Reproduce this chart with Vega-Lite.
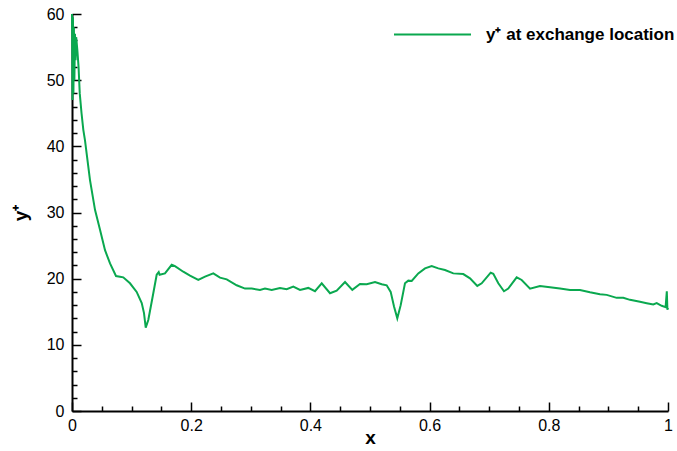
{
  "$schema": "https://vega.github.io/schema/vega-lite/v6.json",
  "width": 596,
  "height": 397,
  "autosize": "none",
  "padding": {"left": 72, "top": 14, "right": 9, "bottom": 40},
  "background": "white",
  "config": {
    "view": {"stroke": null},
    "font": "Liberation Sans",
    "axis": {
      "grid": false,
      "domainColor": "black",
      "domainWidth": 2,
      "tickColor": "black",
      "tickWidth": 1.5,
      "labelFlush": false,
      "labelFont": "Liberation Sans",
      "labelFontSize": 16,
      "labelColor": "black",
      "titleFont": "Liberation Sans",
      "titleFontSize": 19,
      "titleFontWeight": "bold",
      "titleColor": "black"
    }
  },
  "data": {
    "values": [
      {"x": 0.0, "y": 60, "s": "y⁺ at exchange location"},
      {"x": 0.0008, "y": 47, "s": "y⁺ at exchange location"},
      {"x": 0.0016, "y": 59.5, "s": "y⁺ at exchange location"},
      {"x": 0.0024, "y": 48, "s": "y⁺ at exchange location"},
      {"x": 0.0032, "y": 58, "s": "y⁺ at exchange location"},
      {"x": 0.004, "y": 50, "s": "y⁺ at exchange location"},
      {"x": 0.005, "y": 57, "s": "y⁺ at exchange location"},
      {"x": 0.006, "y": 53, "s": "y⁺ at exchange location"},
      {"x": 0.007, "y": 56.5, "s": "y⁺ at exchange location"},
      {"x": 0.009, "y": 54.5, "s": "y⁺ at exchange location"},
      {"x": 0.011, "y": 52, "s": "y⁺ at exchange location"},
      {"x": 0.013, "y": 48, "s": "y⁺ at exchange location"},
      {"x": 0.016, "y": 45, "s": "y⁺ at exchange location"},
      {"x": 0.019, "y": 42.5, "s": "y⁺ at exchange location"},
      {"x": 0.0218, "y": 40.9, "s": "y⁺ at exchange location"},
      {"x": 0.0302, "y": 34.9, "s": "y⁺ at exchange location"},
      {"x": 0.0386, "y": 30.4, "s": "y⁺ at exchange location"},
      {"x": 0.047, "y": 27.4, "s": "y⁺ at exchange location"},
      {"x": 0.0554, "y": 24.3, "s": "y⁺ at exchange location"},
      {"x": 0.0638, "y": 22.3, "s": "y⁺ at exchange location"},
      {"x": 0.0738, "y": 20.4, "s": "y⁺ at exchange location"},
      {"x": 0.0805, "y": 20.3, "s": "y⁺ at exchange location"},
      {"x": 0.086, "y": 20.2, "s": "y⁺ at exchange location"},
      {"x": 0.0973, "y": 19.3, "s": "y⁺ at exchange location"},
      {"x": 0.1085, "y": 18.0, "s": "y⁺ at exchange location"},
      {"x": 0.117, "y": 16.3, "s": "y⁺ at exchange location"},
      {"x": 0.1208, "y": 14.8, "s": "y⁺ at exchange location"},
      {"x": 0.1237, "y": 12.6, "s": "y⁺ at exchange location"},
      {"x": 0.128, "y": 13.75, "s": "y⁺ at exchange location"},
      {"x": 0.1364, "y": 17.8, "s": "y⁺ at exchange location"},
      {"x": 0.1421, "y": 20.6, "s": "y⁺ at exchange location"},
      {"x": 0.1455, "y": 21.0, "s": "y⁺ at exchange location"},
      {"x": 0.147, "y": 20.6, "s": "y⁺ at exchange location"},
      {"x": 0.156, "y": 20.8, "s": "y⁺ at exchange location"},
      {"x": 0.1673, "y": 22.1, "s": "y⁺ at exchange location"},
      {"x": 0.1728, "y": 21.9, "s": "y⁺ at exchange location"},
      {"x": 0.1867, "y": 21.05, "s": "y⁺ at exchange location"},
      {"x": 0.198, "y": 20.45, "s": "y⁺ at exchange location"},
      {"x": 0.2119, "y": 19.8, "s": "y⁺ at exchange location"},
      {"x": 0.2232, "y": 20.3, "s": "y⁺ at exchange location"},
      {"x": 0.2371, "y": 20.8, "s": "y⁺ at exchange location"},
      {"x": 0.2483, "y": 20.15, "s": "y⁺ at exchange location"},
      {"x": 0.2596, "y": 19.9, "s": "y⁺ at exchange location"},
      {"x": 0.2763, "y": 19.0, "s": "y⁺ at exchange location"},
      {"x": 0.2903, "y": 18.5, "s": "y⁺ at exchange location"},
      {"x": 0.3015, "y": 18.5, "s": "y⁺ at exchange location"},
      {"x": 0.3154, "y": 18.3, "s": "y⁺ at exchange location"},
      {"x": 0.3238, "y": 18.5, "s": "y⁺ at exchange location"},
      {"x": 0.3351, "y": 18.3, "s": "y⁺ at exchange location"},
      {"x": 0.349, "y": 18.6, "s": "y⁺ at exchange location"},
      {"x": 0.3602, "y": 18.4, "s": "y⁺ at exchange location"},
      {"x": 0.3713, "y": 18.8, "s": "y⁺ at exchange location"},
      {"x": 0.3826, "y": 18.3, "s": "y⁺ at exchange location"},
      {"x": 0.3965, "y": 18.6, "s": "y⁺ at exchange location"},
      {"x": 0.4077, "y": 18.1, "s": "y⁺ at exchange location"},
      {"x": 0.419, "y": 19.3, "s": "y⁺ at exchange location"},
      {"x": 0.4329, "y": 17.8, "s": "y⁺ at exchange location"},
      {"x": 0.4441, "y": 18.2, "s": "y⁺ at exchange location"},
      {"x": 0.4581, "y": 19.5, "s": "y⁺ at exchange location"},
      {"x": 0.4703, "y": 18.3, "s": "y⁺ at exchange location"},
      {"x": 0.4832, "y": 19.2, "s": "y⁺ at exchange location"},
      {"x": 0.4945, "y": 19.15, "s": "y⁺ at exchange location"},
      {"x": 0.5084, "y": 19.5, "s": "y⁺ at exchange location"},
      {"x": 0.5196, "y": 19.15, "s": "y⁺ at exchange location"},
      {"x": 0.528, "y": 19.0, "s": "y⁺ at exchange location"},
      {"x": 0.5347, "y": 18.0, "s": "y⁺ at exchange location"},
      {"x": 0.5403, "y": 15.8, "s": "y⁺ at exchange location"},
      {"x": 0.5458, "y": 14.0, "s": "y⁺ at exchange location"},
      {"x": 0.5515, "y": 16.0, "s": "y⁺ at exchange location"},
      {"x": 0.5587, "y": 19.3, "s": "y⁺ at exchange location"},
      {"x": 0.5643, "y": 19.7, "s": "y⁺ at exchange location"},
      {"x": 0.57, "y": 19.65, "s": "y⁺ at exchange location"},
      {"x": 0.581, "y": 20.8, "s": "y⁺ at exchange location"},
      {"x": 0.5923, "y": 21.55, "s": "y⁺ at exchange location"},
      {"x": 0.6035, "y": 21.9, "s": "y⁺ at exchange location"},
      {"x": 0.6146, "y": 21.55, "s": "y⁺ at exchange location"},
      {"x": 0.6258, "y": 21.3, "s": "y⁺ at exchange location"},
      {"x": 0.6398, "y": 20.8, "s": "y⁺ at exchange location"},
      {"x": 0.6565, "y": 20.7, "s": "y⁺ at exchange location"},
      {"x": 0.6678, "y": 20.05, "s": "y⁺ at exchange location"},
      {"x": 0.68, "y": 18.9, "s": "y⁺ at exchange location"},
      {"x": 0.6874, "y": 19.3, "s": "y⁺ at exchange location"},
      {"x": 0.7025, "y": 20.9, "s": "y⁺ at exchange location"},
      {"x": 0.7069, "y": 20.75, "s": "y⁺ at exchange location"},
      {"x": 0.7153, "y": 19.3, "s": "y⁺ at exchange location"},
      {"x": 0.7248, "y": 18.1, "s": "y⁺ at exchange location"},
      {"x": 0.732, "y": 18.5, "s": "y⁺ at exchange location"},
      {"x": 0.7461, "y": 20.2, "s": "y⁺ at exchange location"},
      {"x": 0.7545, "y": 19.8, "s": "y⁺ at exchange location"},
      {"x": 0.7685, "y": 18.5, "s": "y⁺ at exchange location"},
      {"x": 0.7852, "y": 18.9, "s": "y⁺ at exchange location"},
      {"x": 0.802, "y": 18.7, "s": "y⁺ at exchange location"},
      {"x": 0.8188, "y": 18.5, "s": "y⁺ at exchange location"},
      {"x": 0.8356, "y": 18.3, "s": "y⁺ at exchange location"},
      {"x": 0.8523, "y": 18.3, "s": "y⁺ at exchange location"},
      {"x": 0.8691, "y": 17.95, "s": "y⁺ at exchange location"},
      {"x": 0.8859, "y": 17.65, "s": "y⁺ at exchange location"},
      {"x": 0.8971, "y": 17.55, "s": "y⁺ at exchange location"},
      {"x": 0.9139, "y": 17.1, "s": "y⁺ at exchange location"},
      {"x": 0.925, "y": 17.1, "s": "y⁺ at exchange location"},
      {"x": 0.9362, "y": 16.8, "s": "y⁺ at exchange location"},
      {"x": 0.953, "y": 16.5, "s": "y⁺ at exchange location"},
      {"x": 0.9643, "y": 16.3, "s": "y⁺ at exchange location"},
      {"x": 0.9753, "y": 16.1, "s": "y⁺ at exchange location"},
      {"x": 0.981, "y": 16.3, "s": "y⁺ at exchange location"},
      {"x": 0.9894, "y": 15.9, "s": "y⁺ at exchange location"},
      {"x": 0.996, "y": 15.7, "s": "y⁺ at exchange location"},
      {"x": 0.998, "y": 18.1, "s": "y⁺ at exchange location"},
      {"x": 0.999, "y": 15.3, "s": "y⁺ at exchange location"},
      {"x": 1.0, "y": 15.6, "s": "y⁺ at exchange location"}
    ]
  },
  "resolve": {"axis": {"x": "independent", "y": "independent"}},
  "layer": [
    {
      "mark": {"type": "line", "opacity": 0},
      "encoding": {
        "x": {"field": "x", "type": "quantitative", "scale": {"domain": [0, 1], "nice": false},
          "axis": {"orient": "bottom", "values": [0.05, 0.1, 0.15, 0.25, 0.3, 0.35, 0.45, 0.5, 0.55, 0.65, 0.7, 0.75, 0.85, 0.9, 0.95], "tickSize": -5, "labels": false, "domain": false, "title": null}},
        "y": {"field": "y", "type": "quantitative", "scale": {"domain": [0, 60], "nice": false},
          "axis": {"orient": "left", "values": [2, 4, 6, 8, 12, 14, 16, 18, 22, 24, 26, 28, 32, 34, 36, 38, 42, 44, 46, 48, 52, 54, 56, 58], "tickSize": -5, "labels": false, "domain": false, "title": null}}
      }
    },
    {
      "mark": {"type": "line", "strokeWidth": 2, "interpolate": "linear"},
      "encoding": {
        "x": {"field": "x", "type": "quantitative", "scale": {"domain": [0, 1], "nice": false},
          "axis": {"orient": "bottom", "values": [0, 0.2, 0.4, 0.6, 0.8, 1], "format": "~g", "tickSize": -9, "labelPadding": 15, "title": "x", "titlePadding": -5}},
        "y": {"field": "y", "type": "quantitative", "scale": {"domain": [0, 60], "nice": false},
          "axis": {"orient": "left", "values": [0, 10, 20, 30, 40, 50, 60], "format": "d", "tickSize": -9, "labelPadding": 17, "title": "y⁺", "titlePadding": 16}},
        "color": {"field": "s", "type": "nominal", "scale": {"range": ["#0aa84f"]},
          "legend": {"title": null, "orient": "none", "legendX": 321, "legendY": -19, "symbolType": "stroke", "symbolSize": 5929, "symbolStrokeWidth": 2, "labelFontSize": 17, "labelFontWeight": "bold", "labelColor": "black", "labelFont": "Liberation Sans", "labelOffset": 14, "labelLimit": 400}}
      }
    }
  ]
}
